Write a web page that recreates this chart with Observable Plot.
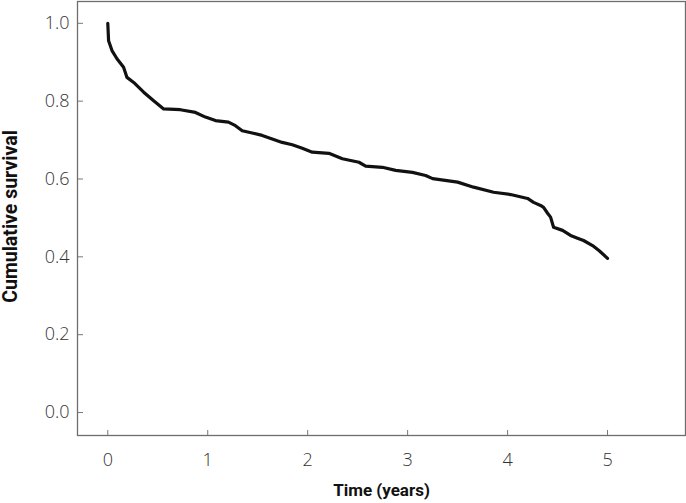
<!DOCTYPE html>
<html>
<head>
<meta charset="utf-8">
<script src="https://cdn.jsdelivr.net/npm/d3@7"></script>
<script src="https://cdn.jsdelivr.net/npm/@observablehq/plot@0.6"></script>
<style>
  html, body { margin: 0; padding: 0; background: #fff; }
  #chart { width: 686px; height: 503px; }
  .tl text { font-family: "Open Sans", sans-serif; font-weight: 300; fill: #333; }
</style>
</head>
<body>
<div id="chart"></div>
<script>
// Kaplan–Meier estimate
const timeYears = [0, 0.008, 0.042, 0.092, 0.158, 0.192, 0.259, 0.359, 0.459, 0.559,
  0.726, 0.877, 0.977, 1.077, 1.207, 1.277, 1.345, 1.445, 1.545, 1.645,
  1.745, 1.846, 1.946, 2.046, 2.212, 2.347, 2.513, 2.58, 2.747, 2.88,
  3.048, 3.18, 3.25, 3.50, 3.66, 3.86, 4.03, 4.20, 4.26, 4.33,
  4.36, 4.40, 4.43, 4.46, 4.55, 4.63, 4.70, 4.76, 4.85, 4.92, 5.00];
const survival = [1.0, 0.955, 0.930, 0.909, 0.887, 0.861, 0.848, 0.823, 0.801, 0.780,
  0.778, 0.771, 0.759, 0.750, 0.746, 0.737, 0.724, 0.718, 0.712, 0.703,
  0.694, 0.688, 0.679, 0.669, 0.666, 0.652, 0.643, 0.633, 0.630, 0.622,
  0.617, 0.609, 0.601, 0.592, 0.579, 0.566, 0.560, 0.550, 0.540, 0.532,
  0.527, 0.512, 0.502, 0.476, 0.468, 0.455, 0.448, 0.442, 0.429, 0.415, 0.396];
const xTicks = [0, 1, 2, 3, 4, 5];
const yTicks = [0.0, 0.2, 0.4, 0.6, 0.8, 1.0];
const xLabel = "Time (years)";
const yLabel = "Cumulative survival";

const data = timeYears.map((t, i) => ({t, s: survival[i]}));

const chart = Plot.plot({
  width: 686,
  height: 503,
  marginLeft: 77,
  marginRight: 1,
  marginTop: 1,
  marginBottom: 68,
  style: {fontFamily: "Open Sans, sans-serif", fontSize: "18px", color: "#333", background: "#fff"},
  x: {domain: [-0.303, 5.78]},
  y: {domain: [-0.059, 1.056]},
  marks: [
    Plot.axisX(xTicks, {tickSize: 0, tickPadding: 18, fontSize: 18, className: "tl", label: null}),
    Plot.axisX(xTicks, {tickSize: -5, stroke: "#777", tickFormat: () => "", label: null}),
    Plot.axisY(yTicks, {tickSize: 0, tickPadding: 8, fontSize: 18, className: "tl", tickFormat: d3.format(".1f"), label: null}),
    Plot.axisY(yTicks, {tickSize: -6, stroke: "#777", tickFormat: () => "", label: null}),
    Plot.frame({stroke: "#6e6e6e", strokeWidth: 1.3}),
    Plot.line(data, {x: "t", y: "s", curve: "linear", stroke: "#111", strokeWidth: 3.2, strokeLinejoin: "round"}),
    Plot.text([xLabel], {frameAnchor: "bottom", dy: 60, fontSize: 17, fontWeight: "bold", fontFamily: "Roboto", fill: "#111"}),
    Plot.text([yLabel], {frameAnchor: "left", dx: -67, dy: -2, rotate: -90, textAnchor: "middle", fontSize: 19.5, fontWeight: "bold", fontFamily: "Roboto", fill: "#111"})
  ]
});
document.getElementById("chart").appendChild(chart);
</script>
</body>
</html>
